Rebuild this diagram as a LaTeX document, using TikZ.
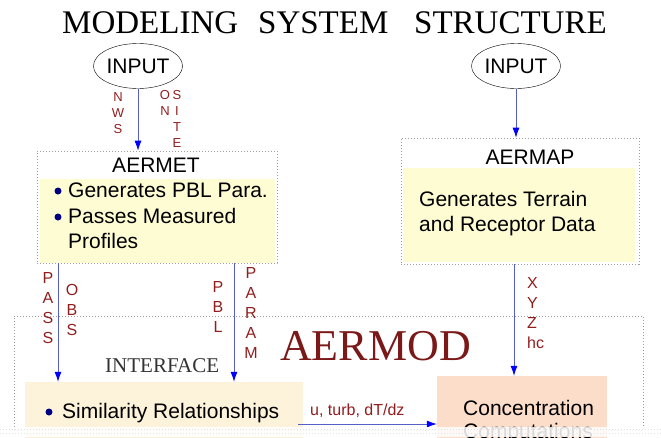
\documentclass[tikz,border=0pt]{standalone}
\usepackage{fontspec}
\setmainfont{Liberation Sans}
\newfontfamily\tmsfont{Liberation Serif}
\usetikzlibrary{shapes.geometric,arrows.meta}
\definecolor{cby}{RGB}{253,252,210}
\definecolor{cbs}{RGB}{252,243,218}
\definecolor{cbc}{RGB}{251,221,202}
\definecolor{cdr}{RGB}{145,30,30}
\definecolor{cln}{RGB}{85,95,200}
\definecolor{cdt}{gray}{.62}
\definecolor{cbl}{RGB}{0,0,130}
\tikzset{
  inp/.style={ellipse,draw,inner sep=0pt,minimum height=45pt,font=\fontsize{21}{24}\selectfont},
  dotbox/.style={draw=cdt,dash pattern=on 1.4pt off 1.6pt,line width=.7pt,inner sep=0pt},
  fillbox/.style={inner sep=0pt,draw=none},
  txt/.style={inner sep=0pt,font=\fontsize{21}{24}\selectfont},
  ttl/.style={inner sep=0pt,font=\tmsfont\fontsize{33}{35}\selectfont},
  dot/.style={circle,fill=cbl,inner sep=0pt,minimum size=7pt},
  lbl/.style={inner sep=0pt,text=cdr,align=center,font=\fontsize{16}{20}\selectfont},
  lbls/.style={lbl,font=\fontsize{13}{16}\selectfont},
  flow/.style={cln,line width=.8pt,-{Latex[color=blue,length=10pt,width=7pt]}}
}

\begin{document}
\begin{tikzpicture}[x=1pt,y=-1pt]
    \useasboundingbox (0,0) rectangle (661,437);
    \clip (0,0) rectangle (661,437);
    % title
    \node[ttl,anchor=base west](t1)at(62,33){MODELING};
    \node[ttl,anchor=base west](t2)at(258,33){SYSTEM};
    \node[ttl,anchor=base west](t3)at(414,33){STRUCTURE};
    % inputs
    \node[inp,minimum width=84pt](in1)at(138,66){INPUT};
    \node[inp,minimum width=80pt](in2)at(516,66){INPUT};
    % AERMET
    \node[fillbox,fill=cby,minimum width=235pt,minimum height=84pt](metfill)at(157.5,220.5){};
    \node[dotbox,minimum width=240pt,minimum height=112pt](aermet)at(157,207){};
    \node[txt](mettitle)at(156,165){AERMET};
    \node[dot](b1)at(58,191){};
    \node[txt,anchor=base west](gen)at(68,197){Generates PBL Para.};
    \node[dot](b2)at(58,217){};
    \node[txt,anchor=base west](pass)at(68,223){Passes Measured};
    \node[txt,anchor=base west](prof)at([yshift=-25pt]pass.base west){Profiles};
    % AERMAP
    \node[fillbox,fill=cby,minimum width=232pt,minimum height=94pt](mapfill)at(519,215){};
    \node[dotbox,minimum width=238pt,minimum height=126pt](aermap)at(520,201){};
    \node[txt](maptitle)at(530,157){AERMAP};
    \node[txt,anchor=base west](terr)at(419,206){Generates Terrain};
    \node[txt,anchor=base west](rec)at(419,231){and Receptor Data};
    % AERMOD
    \node[dotbox,minimum width=629pt,minimum height=114pt](aermod)at(328.5,373){};
    \node[inner sep=0pt,anchor=base west,text=cdr!85!black,font=\tmsfont\fontsize{44}{46}\selectfont](modtitle)at(280,360){AERMOD};
    \node[inner sep=0pt,anchor=base west,text=black!80,font=\tmsfont\fontsize{21}{24}\selectfont](intf)at(105,372){INTERFACE};
    \node[fillbox,fill=cbs,minimum width=278pt,minimum height=68pt](sim)at(164,416){};
    \node[dot](b3)at(49,412){};
    \node[txt,anchor=base west](simtxt)at(62,418){Similarity Relationships};
    \node[fillbox,fill=cbc,minimum width=170pt,minimum height=74pt](conc)at(522,413){};
    \node[txt,anchor=base west](conctxt)at(463,415){Concentration};
    \node[txt,anchor=base west](comp)at([yshift=-23pt]conctxt.base west){Computations};
    % connectors
    \draw[flow](in1.south)--(in1.south |- aermet.north);
    \draw[flow](in2.south)--(in2.south |- aermap.north);
    \draw[flow]([xshift=-99pt]aermet.south)--([xshift=-99pt]aermet.south |- sim.north);
    \draw[flow]([xshift=77pt]aermet.south)--([xshift=77pt]aermet.south |- sim.north);
    \draw[flow]([xshift=-6pt]aermap.south)--([xshift=-6pt]aermap.south |- conc.north);
    \coordinate(ut)at(298,424);
    \draw[flow](ut)--(ut -| conc.west);
    % band at the lower edge
    \fill[white,opacity=.85](0,427)rectangle(661,437);
    \draw[gray!25,dotted,line width=1pt](0,429)--(661,429);
    \draw[gray!20,dotted,line width=1pt](0,433)--(661,433);
    % labels
    \node[lbls,anchor=north](nws)at(118,92){N\\W\\S};
    \node[lbls,anchor=north](on)at(165,90){O\\N};
    \node[lbls,anchor=north](site)at(177,90){S\\I\\T\\E};
    \node[lbl,anchor=north](pss)at(48,272){P\\A\\S\\S};
    \node[lbl,anchor=north](obs)at(72,284){O\\B\\S};
    \node[lbl,anchor=north](pbl)at(218,281){P\\B\\L};
    \node[lbl,anchor=north](param)at(251,267){P\\A\\R\\A\\M};
    \node[lbl,anchor=north west,align=left](xyz)at(527,277){X\\Y\\Z\\hc};
    \node[lbl,anchor=base west](utlbl)at(310,415){u, turb, dT/dz};
\end{tikzpicture}
\end{document}
